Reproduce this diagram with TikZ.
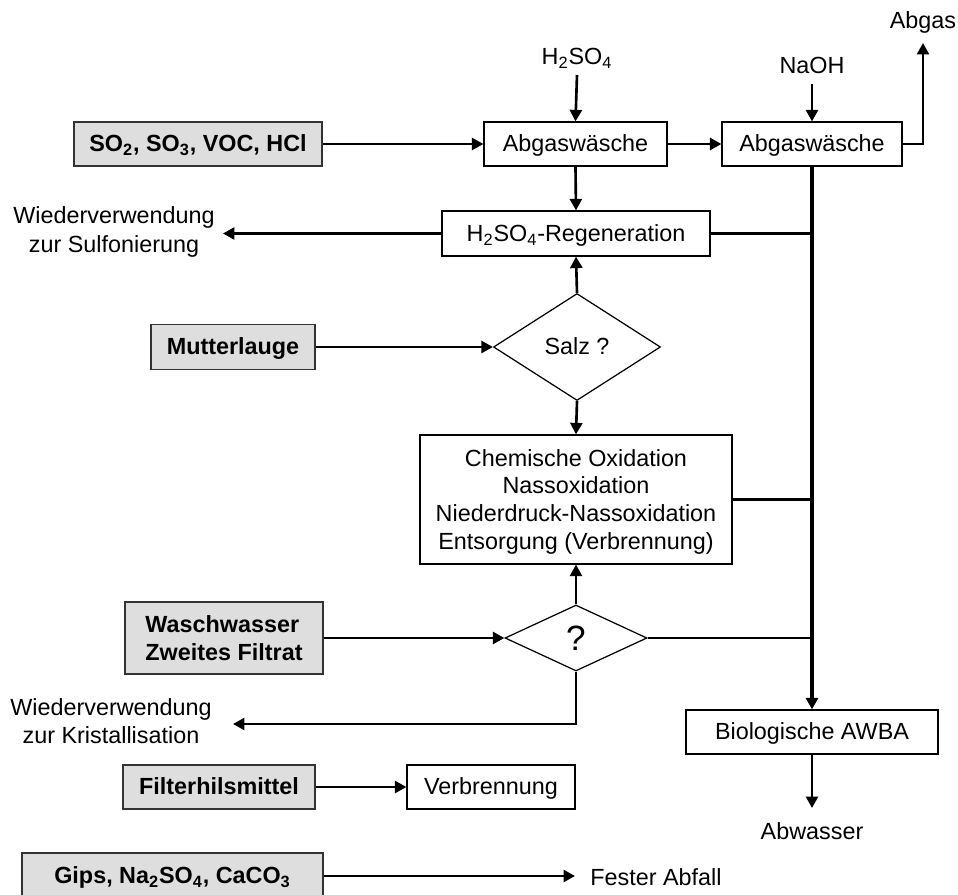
\documentclass[tikz,border=0pt]{standalone}
\usepackage{fontspec}
\setmainfont{Liberation Sans}
\usetikzlibrary{arrows.meta,shapes.geometric}
\newcommand{\pxu}{0.02cm}
\tikzset{
  base/.style={inner sep=0pt, font=\fontsize{13.3}{16}\selectfont, text=black},
  oneline/.style={text height=10pt, text depth=1pt},
  procbox/.style={base, draw=black, line width=0.7pt, fill=white, rectangle},
  srcbox/.style={base, draw=black!80, line width=0.7pt, fill=black!13, rectangle, font=\fontsize{13.3}{16}\selectfont\bfseries},
  decis/.style={base, draw=black, line width=0.7pt, diamond, fill=white},
  lbl/.style={base},
  flow/.style={line width=1.5pt, -{Triangle[length=2.3mm,width=2.4mm]}},
  joinline/.style={line width=1.2pt},
  mainline/.style={line width=1.9pt}
}
\begin{document}
\begin{tikzpicture}[x=0.02cm,y=-0.02cm]
\useasboundingbox (0,0) rectangle (958,895);
\clip (0,0) rectangle (958,895);
\fill[white] (0,0) rectangle (958,895);

% nodes
\node[srcbox, oneline, minimum width=248*\pxu, minimum height=44*\pxu] (so2) at (198,144) {SO\textsubscript{2}, SO\textsubscript{3}, VOC, HCl};
\node[procbox, oneline, minimum width=183*\pxu, minimum height=44*\pxu] (wash1) at (575.5,144) {Abgaswäsche};
\node[procbox, oneline, minimum width=180*\pxu, minimum height=44*\pxu] (wash2) at (812,144) {Abgaswäsche};
\node[lbl] (h2so4) at (577,58) {H\textsubscript{2}SO\textsubscript{4}};
\node[lbl] (naoh) at (812,65) {NaOH};
\node[lbl] (abgas) at (923,22) {Abgas};
\coordinate (abgasbend) at (923,144);
\coordinate (abgastip) at (923,43);
\coordinate (h2so4top) at (577,75);
\coordinate (naohtop) at (812,84);

\node[procbox, oneline, minimum width=268*\pxu, minimum height=45*\pxu] (regen) at (576,233.5) {H\textsubscript{2}SO\textsubscript{4}-Regeneration};
\node[lbl, align=center] (reuse1) at (114,232) {Wiederverwendung\\zur Sulfonierung};
\coordinate (reuse1tip) at (223,233.5);

\node[decis, oneline, minimum width=167*\pxu, minimum height=107*\pxu] (salz) at (577,347) {Salz ?};
\node[srcbox, oneline, minimum width=164*\pxu, minimum height=45*\pxu] (mutter) at (233,347) {Mutterlauge};

\node[procbox, minimum width=312*\pxu, minimum height=129*\pxu, align=center, text depth=0pt, font=\fontsize{13.3}{15.9}\selectfont] (chem) at (576,499.5) {Chemische Oxidation\\Nassoxidation\\Niederdruck-Nassoxidation\\Entsorgung (Verbrennung)};

\node[decis, minimum width=142*\pxu, minimum height=66*\pxu, font=\fontsize{20}{22}\selectfont] (quest) at (576,638) {?};
\node[srcbox, minimum width=198*\pxu, minimum height=72*\pxu, align=left] (wasch) at (224,638) {Waschwasser\\Zweites Filtrat};
\node[lbl, align=center] (reuse2) at (111,721) {Wiederverwendung\\zur Kristallisation};
\coordinate (qbend) at (576,724);
\coordinate (reuse2tip) at (233,724);

\node[procbox, oneline, minimum width=252*\pxu, minimum height=44*\pxu] (bio) at (812,732) {Biologische AWBA};
\node[lbl] (abwasser) at (812,831) {Abwasser};
\coordinate (abwtip) at (812,808);

\node[srcbox, oneline, minimum width=192*\pxu, minimum height=44*\pxu] (filter) at (219,787) {Filterhilsmittel};
\node[procbox, oneline, minimum width=168*\pxu, minimum height=44*\pxu] (verbr) at (491,787) {Verbrennung};

\node[srcbox, oneline, minimum width=301*\pxu, minimum height=46*\pxu] (gips) at (172.5,876) {Gips, Na\textsubscript{2}SO\textsubscript{4}, CaCO\textsubscript{3}};
\node[lbl, anchor=west] (fester) at (590,877) {Fester Abfall};
\coordinate (festertip) at (575,876);

% junction points on main line
\coordinate (j1) at (812,233.5);
\coordinate (j2) at (812,499.5);
\coordinate (j3) at (812,638);

% connectors
\draw[flow] (so2.east) -- (wash1.west);
\draw[flow] (wash1.east) -- (wash2.west);
\draw[flow] (h2so4top) -- (wash1.north);
\draw[flow] (naohtop) -- (wash2.north);
\draw[flow] (wash2.east) -- (abgasbend) -- (abgastip);
\draw[flow] (wash1.south) -- (regen.north);
\draw[flow] (regen.west) -- (reuse1tip);
\draw[flow] (salz.north) -- (regen.south);
\draw[flow] (mutter.east) -- (salz.west);
\draw[flow] (salz.south) -- (chem.north);
\draw[flow] (quest.north) -- (chem.south);
\draw[flow] (wasch.east) -- (quest.west);
\draw[flow] (quest.south) -- (qbend) -- (reuse2tip);
\draw[flow] (filter.east) -- (verbr.west);
\draw[flow] (gips.east) -- (festertip);
\draw[flow] (bio.south) -- (abwtip);

\draw[joinline] (regen.east) -- (j1);
\draw[joinline] (chem.east) -- (j2);
\draw[joinline] (quest.east) -- (j3);
\draw[mainline, -{Triangle[length=2.3mm,width=2.4mm]}] (wash2.south) -- (bio.north);
\end{tikzpicture}
\end{document}
